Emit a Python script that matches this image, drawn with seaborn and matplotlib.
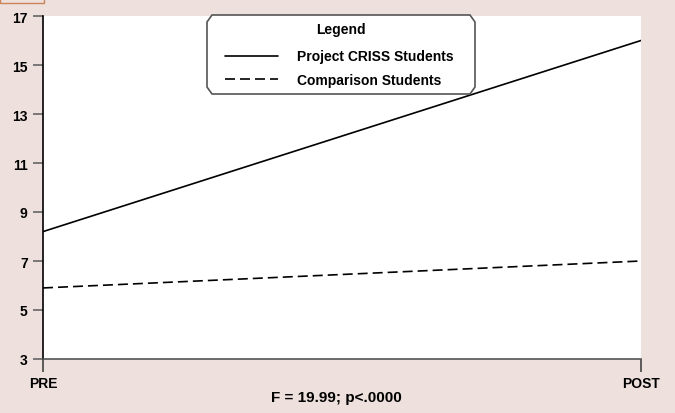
import pandas as pd
import seaborn as sns
import matplotlib.pyplot as plt
from matplotlib.patches import Polygon, Rectangle
from matplotlib.lines import Line2D

phases = ['PRE', 'POST']
criss_scores = [8.2, 16.0]
comparison_scores = [5.9, 7.0]
group_names = ['Project CRISS Students', 'Comparison Students']
y_ticks = [3, 5, 7, 9, 11, 13, 15, 17]
stat_text = 'F = 19.99; p<.0000'

df = pd.DataFrame({
    'phase': list(range(len(phases))) * 2,
    'score': criss_scores + comparison_scores,
    'group': [group_names[0]] * 2 + [group_names[1]] * 2,
})

sns.set_style('white')
plt.rcParams['font.family'] = ['Liberation Sans', 'DejaVu Sans']
plt.rcParams['font.weight'] = 'bold'
plt.rcParams['text.color'] = 'black'
plt.rcParams['xtick.labelcolor'] = 'black'
plt.rcParams['ytick.labelcolor'] = 'black'

bg = '#eee1dd'
dash = (6, 3)
fig = plt.figure(figsize=(6.75, 4.14), dpi=100, facecolor=bg)
ax = fig.add_axes([43 / 675, 1 - 360 / 414, 598 / 675, 343 / 414])
ax.set_facecolor('white')

sns.lineplot(data=df, x='phase', y='score', style='group', color='black',
             linewidth=1.2, dashes={group_names[0]: '', group_names[1]: dash},
             legend=False, ax=ax)

ax.set_xlim(0, 1)
ax.set_ylim(3, 17)
ax.set_yticks(y_ticks)
ax.set_yticklabels([str(t) for t in y_ticks], fontsize=10, fontweight='bold',
                   color='black')
ax.set_xticks([0, 1])
ax.set_xticklabels(phases, fontsize=10, fontweight='bold', color='black')
ax.set_xlabel('')
ax.set_ylabel('')

for side in ['top', 'right']:
    ax.spines[side].set_visible(False)
ax.spines['left'].set_color('black')
ax.spines['left'].set_linewidth(1.2)
ax.spines['bottom'].set_color('#555555')
ax.spines['bottom'].set_linewidth(1.2)
ax.tick_params(axis='y', direction='out', length=7, width=1.2, color='#666666', pad=4)
ax.tick_params(axis='x', direction='out', length=9, width=1.2, color='#444444', pad=3)
ax.tick_params(left=True, bottom=True)

fig.text(336 / 675, 1 - 398 / 414, stat_text, fontsize=11, fontweight='bold',
         ha='center', va='center')

# octagonal legend frame
x0, x1, y0, y1 = 207, 475, 16, 95
cx, cy = 5, 7
pts = [(x0 + cx, y0), (x1 - cx, y0), (x1, y0 + cy), (x1, y1 - cy),
       (x1 - cx, y1), (x0 + cx, y1), (x0, y1 - cy), (x0, y0 + cy)]
pts = [(px / 675, 1 - py / 414) for px, py in pts]
fig.patches.append(Polygon(pts, closed=True, transform=fig.transFigure,
                           facecolor='white', edgecolor='#555555', linewidth=1.2,
                           zorder=5))
fig.text(341 / 675, 1 - 30 / 414, 'Legend', fontsize=10, fontweight='bold',
         ha='center', va='center', zorder=6)
handles = [Line2D([], [], color='black', linewidth=1.2),
           Line2D([], [], color='black', linewidth=1.2, linestyle=(0, dash))]
leg = fig.legend(handles, group_names, loc='center left',
                 bbox_to_anchor=(225 / 675, 1 - 69 / 414), frameon=False,
                 prop={'size': 10, 'weight': 'bold'}, handlelength=3.8,
                 handletextpad=1.35, labelspacing=0.65, borderpad=0,
                 borderaxespad=0)
leg.set_zorder(6)

fig.patches.append(Rectangle((0, 1 - 4 / 414), 44 / 675, 5 / 414,
                             transform=fig.transFigure, facecolor='none',
                             edgecolor='#c9845a', linewidth=1))

fig.savefig('out.png', dpi=100, facecolor=bg)
